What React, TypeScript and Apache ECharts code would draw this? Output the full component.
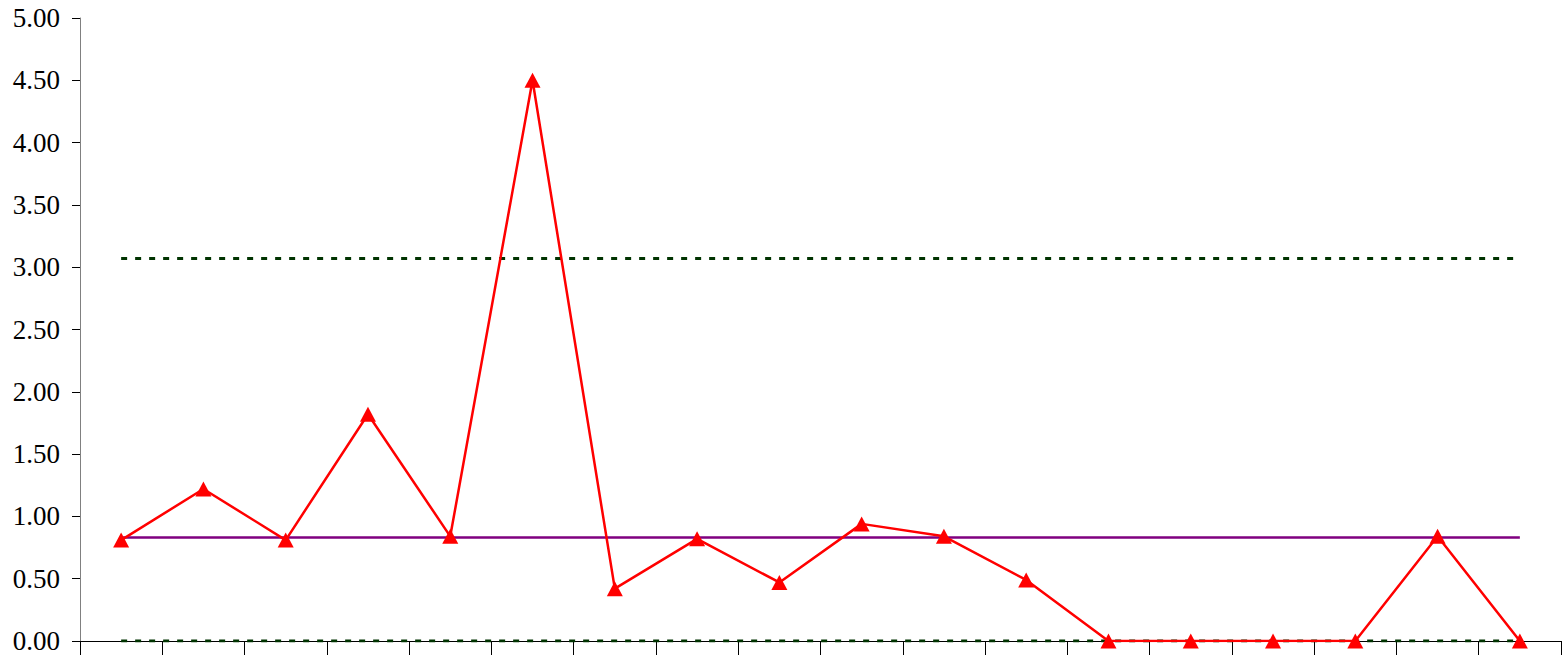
import React, { useEffect, useRef } from "react";
import * as echarts from "echarts";

const categories = ["1","2","3","4","5","6","7","8","9","10","11","12","13","14","15","16","17","18"];
const values = [0.81, 1.22, 0.81, 1.82, 0.84, 4.5, 0.42, 0.82, 0.47, 0.94, 0.84, 0.49, 0, 0, 0, 0, 0.84, 0];
const centerValue = 0.83;
const upperLimit = 3.07;
const lowerLimit = 0;

export default function App() {
  const ref = useRef<HTMLDivElement>(null);
  useEffect(() => {
    if (!ref.current) return;
    const chart = echarts.init(ref.current, null, { renderer: "svg" });
    const dashed = {
      type: "line",
      symbol: "none",
      silent: true,
      lineStyle: { color: "#003300", width: 3, type: [6, 8] },
      z: 3,
    };
    chart.setOption({
      animation: false,
      grid: { left: 80, top: 18, right: 1, bottom: 14 },
      xAxis: {
        type: "category",
        data: categories,
        boundaryGap: true,
        axisLine: { lineStyle: { color: "#000", width: 1 } },
        axisTick: { show: true, interval: 0, length: 14, lineStyle: { color: "#000" } },
        axisLabel: { show: false },
        splitLine: { show: false },
      },
      yAxis: {
        type: "value",
        min: 0,
        max: 5,
        interval: 0.5,
        axisLine: { show: true, lineStyle: { color: "#808080", width: 1 } },
        axisTick: { show: true, length: 8, lineStyle: { color: "#000" } },
        axisLabel: {
          formatter: (v: number) => v.toFixed(2),
          fontFamily: "Liberation Serif",
          fontSize: 27,
          color: "#000",
          margin: 20,
        },
        splitLine: { show: false },
      },
      series: [
        {
          type: "line",
          data: categories.map(() => centerValue),
          symbol: "none",
          silent: true,
          lineStyle: { color: "#800080", width: 2.5 },
          z: 2,
        },
        { ...dashed, data: categories.map(() => upperLimit) },
        { ...dashed, data: categories.map(() => lowerLimit) },
        {
          type: "line",
          data: values,
          symbol: "triangle",
          symbolSize: [16, 15],
          itemStyle: { color: "#ff0000" },
          lineStyle: { color: "#ff0000", width: 2.5 },
          z: 5,
        },
      ],
    });
    return () => chart.dispose();
  }, []);
  return <div ref={ref} style={{ width: 1562, height: 655, position: "absolute", left: 0, top: 0 }} />;
}
